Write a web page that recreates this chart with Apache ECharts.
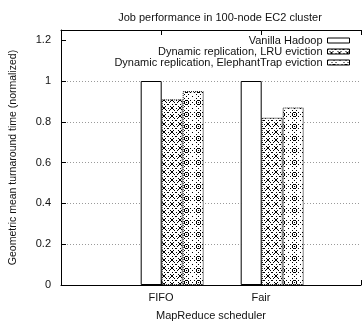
<!DOCTYPE html>
<html><head><meta charset="utf-8">
<script src="https://cdn.jsdelivr.net/npm/echarts@6/dist/echarts.min.js"></script>
<style>html,body{margin:0;padding:0;background:#fff}#c{width:364px;height:326px}</style>
</head><body><div id="c"></div>
<script>
var categories = ['FIFO', 'Fair'];
var seriesNames = ['Vanilla Hadoop', 'Dynamic replication, LRU eviction', 'Dynamic replication, ElephantTrap eviction'];
var vanilla = [1.0, 1.0];
var lru = [0.91, 0.82];
var elephantTrap = [0.95, 0.87];
var yTicks = [0, 0.2, 0.4, 0.6, 0.8, 1, 1.2];

function lruPattern() {
  var c = document.createElement('canvas'); c.width = 8; c.height = 8;
  var g = c.getContext('2d'); g.fillStyle = '#fff'; g.fillRect(0,0,8,8);
  g.fillStyle = '#000';
  for (var i = 0; i < 8; i += 1) {
    if (i % 2 === 0 || i === 3 || i === 5) { g.fillRect(i, i, 1, 1); g.fillRect(7 - i, i, 1, 1); }
  }
  g.fillRect(0, 4, 1, 1); g.fillRect(4, 0, 1, 1);
  return c;
}
function etPattern() {
  var c = document.createElement('canvas'); c.width = 12; c.height = 12;
  var g = c.getContext('2d'); g.fillStyle = '#fff'; g.fillRect(0,0,12,12);
  g.fillStyle = '#000';
  for (var i = 0; i <= 6; i += 1) {
    if (i % 2 === 0) {
      g.fillRect(6 + i, i, 1, 1); g.fillRect(6 - i, i, 1, 1);
      g.fillRect(i, 6 + i, 1, 1); g.fillRect(12 - i, 6 + i, 1, 1);
    }
  }
  g.fillRect(5, 4, 3, 1); g.fillRect(5, 8, 3, 1); g.fillRect(4, 5, 1, 3); g.fillRect(8, 5, 1, 3);
  g.fillRect(6, 6, 1, 1);
  g.fillRect(0, 0, 1, 1);
  return c;
}

var font = 'Liberation Sans, Arial, Helvetica, sans-serif';
var txt = '#111';
var chart = echarts.init(document.getElementById('c'), null, {renderer: 'canvas'});
var tickAxisBase = {
  type: 'value', min: 0, max: 3, interval: 1,
  axisLine: {show: true, lineStyle: {color: '#000', width: 1}},
  axisTick: {show: true, inside: true, length: 5, lineStyle: {color: '#000'}},
  splitLine: {show: false}
};
var gridColors = ['rgba(0,0,0,0)', '#9a9a9a', '#9a9a9a', '#9a9a9a', '#9a9a9a', '#9a9a9a', 'rgba(0,0,0,0)', 'rgba(0,0,0,0)'];

function toPoints(arr) { return arr.map(function (v, i) { return [i + 1, v]; }); }

chart.setOption({
  animation: false,
  textStyle: {fontFamily: font},
  title: {
    text: 'Job performance in 100-node EC2 cluster',
    left: 215, top: 7, textAlign: 'center',
    textStyle: {fontFamily: font, fontSize: 11, fontWeight: 'normal', color: txt}
  },
  legend: {
    orient: 'vertical', right: 14, top: 35, align: 'right', padding: 0,
    icon: 'rect', itemWidth: 22, itemHeight: 5, itemGap: 0,
    itemStyle: {borderWidth: 1, borderColor: '#000'},
    textStyle: {fontFamily: font, fontSize: 11, color: txt, lineHeight: 9.4, padding: [0, 0, 0, 0]},
    data: seriesNames
  },
  grid: {left: 60, top: 30, width: 309, height: 263, containLabel: false},
  xAxis: [
    Object.assign({}, tickAxisBase, {
      position: 'bottom',
      name: 'MapReduce scheduler', nameLocation: 'middle', nameGap: 25,
      nameTextStyle: {fontFamily: font, fontSize: 11, color: txt},
      axisLabel: {
        fontFamily: font, fontSize: 11, color: txt, margin: 7,
        formatter: function (v) { return categories[v - 1] || ''; }
      }
    }),
    Object.assign({}, tickAxisBase, {position: 'top', axisLabel: {show: false}}),
    {type: 'value', min: -0.112, max: 2.888, show: false, splitLine: {show: false}}
  ],
  yAxis: [{
    type: 'value', min: 0, max: 1.25, interval: 0.2,
    name: 'Geometric mean turnaround time (normalized)', nameLocation: 'middle', nameGap: 42,
    nameTextStyle: {fontFamily: font, fontSize: 10.5, color: txt},
    axisLine: {show: true, lineStyle: {color: '#000', width: 1}},
    axisTick: {show: true, inside: true, length: 5, lineStyle: {color: '#000'}},
    axisLabel: {
      fontFamily: font, fontSize: 11, color: txt, margin: 10, showMaxLabel: false,
      formatter: function (v) { var r = Math.round(v * 10) / 10; return yTicks.indexOf(r) >= 0 && Math.abs(r - v) < 1e-6 ? String(r) : ''; }
    },
    splitLine: {show: true, lineStyle: {color: gridColors, type: [1, 2], width: 1}}
  }],
  series: [
    {
      name: seriesNames[0], type: 'bar', xAxisIndex: 2, barWidth: 21, barGap: '0%',
      itemStyle: {color: '#fff', borderColor: '#000', borderWidth: 1},
      data: toPoints(vanilla)
    },
    {
      name: seriesNames[1], type: 'bar', xAxisIndex: 2, barWidth: 21, barGap: '0%',
      itemStyle: {color: {image: lruPattern(), repeat: 'repeat'}, borderColor: '#000', borderWidth: 1, borderType: [1, 1]},
      data: toPoints(lru)
    },
    {
      name: seriesNames[2], type: 'bar', xAxisIndex: 2, barWidth: 21, barGap: '0%',
      itemStyle: {color: {image: etPattern(), repeat: 'repeat'}, borderColor: '#000', borderWidth: 1, borderType: [1, 1]},
      data: toPoints(elephantTrap)
    }
  ]
});
</script>
</body></html>
